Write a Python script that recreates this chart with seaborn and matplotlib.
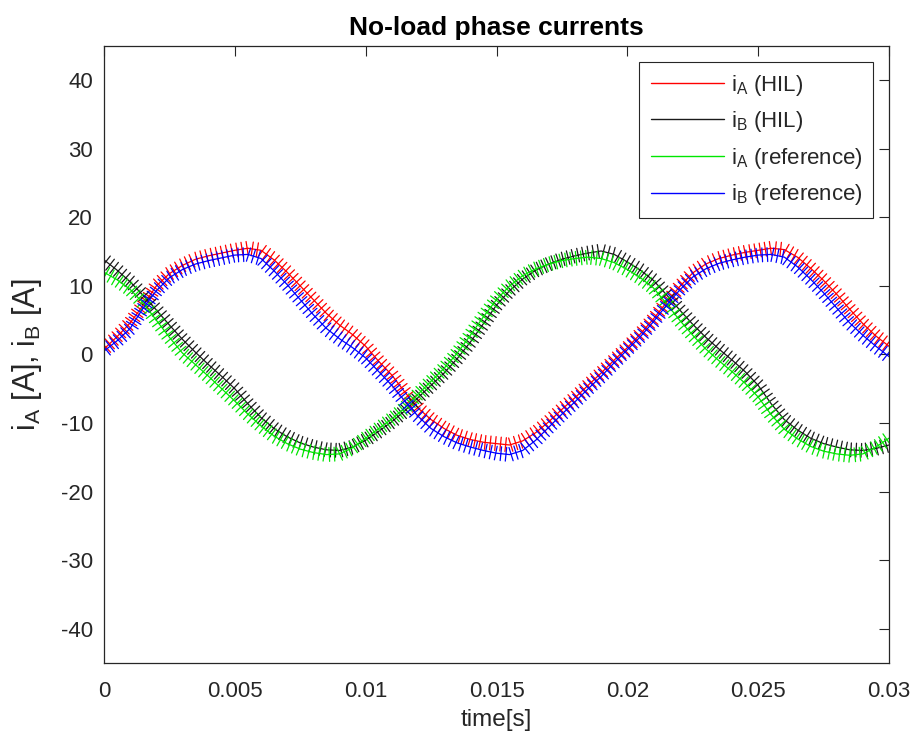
import numpy as np
import pandas as pd
import matplotlib
matplotlib.use("Agg")
import matplotlib.pyplot as plt
import matplotlib.patheffects as pe
from matplotlib.lines import Line2D
import seaborn as sns

# ---- data (time step 0.5 ms) ----
time_ms = [0.0, 0.5, 1.0, 1.5, 2.0, 2.5, 3.0, 3.5, 4.0, 4.5,
           5.0, 5.5, 6.0, 6.5, 7.0, 7.5, 8.0, 8.5, 9.0, 9.5,
           10.0, 10.5, 11.0, 11.5, 12.0, 12.5, 13.0, 13.5, 14.0, 14.5,
           15.0, 15.5, 16.0, 16.5, 17.0, 17.5, 18.0, 18.5, 19.0, 19.5,
           20.0, 20.5, 21.0, 21.5, 22.0, 22.5, 23.0, 23.5, 24.0, 24.5,
           25.0, 25.5, 26.0, 26.5, 27.0, 27.5, 28.0, 28.5, 29.0, 29.5,
           30.0]
iA_hil = [0.8, 2.6, 4.6, 7.2, 10.0, 11.8, 13.0, 13.9, 14.4, 14.8,
          15.2, 15.5, 15.2, 13.8, 12.0, 10.0, 8.0, 6.0, 4.3, 2.9,
          1.2, -1.0, -3.0, -5.5, -7.8, -9.5, -10.8, -11.8, -12.4, -12.8,
          -13.0, -13.2, -12.6, -11.4, -9.8, -8.0, -6.3, -4.5, -2.7, -0.8,
          1.0, 3.0, 5.2, 7.6, 9.9, 11.9, 13.2, 14.0, 14.5, 14.9,
          15.2, 15.5, 15.3, 14.2, 12.6, 10.8, 8.8, 6.6, 4.5, 2.7,
          1.2]
iB_hil = [13.8, 12.3, 10.6, 8.6, 6.5, 4.3, 2.2, 0.3, -1.5, -3.2,
          -5.0, -7.2, -9.2, -10.8, -12.0, -12.9, -13.5, -13.9, -14.0, -13.5,
          -12.5, -11.2, -9.8, -8.2, -6.3, -4.5, -2.7, -0.6, 1.8, 4.5,
          7.2, 9.3, 11.0, 12.3, 13.2, 13.9, 14.4, 14.8, 15.1, 14.6,
          13.5, 12.3, 10.8, 8.7, 6.5, 4.4, 2.5, 0.8, -0.8, -2.5,
          -4.5, -7.2, -9.5, -11.0, -12.2, -13.0, -13.5, -13.9, -14.0, -13.7,
          -13.2]
iA_ref = [12.0, 10.9, 9.5, 7.5, 5.0, 2.5, 0.2, -1.5, -3.2, -5.0,
          -6.8, -8.7, -10.4, -11.9, -13.0, -13.8, -14.3, -14.6, -14.5, -13.6,
          -12.2, -10.8, -9.4, -7.8, -5.8, -3.9, -2.0, 0.2, 2.8, 5.5,
          8.0, 10.0, 11.5, 12.5, 13.2, 13.7, 14.0, 14.2, 14.0, 13.4,
          12.4, 11.2, 9.7, 7.4, 5.0, 2.8, 0.8, -0.9, -2.5, -4.2,
          -6.2, -8.8, -10.9, -12.3, -13.4, -14.1, -14.5, -14.7, -14.5, -13.5,
          -12.2]
iB_ref = [0.5, 2.0, 3.8, 6.8, 9.3, 11.2, 12.4, 13.2, 13.7, 14.1,
          14.5, 14.6, 14.0, 12.2, 10.2, 8.0, 5.8, 3.8, 2.3, 1.0,
          -0.5, -2.5, -4.5, -6.8, -9.0, -10.8, -12.0, -12.9, -13.5, -14.0,
          -14.4, -14.6, -14.0, -12.5, -10.6, -8.7, -6.9, -5.0, -3.2, -1.2,
          0.7, 2.6, 4.8, 7.2, 9.4, 11.3, 12.5, 13.3, 13.8, 14.2,
          14.5, 14.6, 14.2, 12.8, 11.0, 9.0, 6.8, 4.6, 2.8, 1.2,
          -0.3]

series_names = [r"i$_\mathrm{A}$ (HIL)", r"i$_\mathrm{B}$ (HIL)",
                r"i$_\mathrm{A}$ (reference)", r"i$_\mathrm{B}$ (reference)"]
series_colors = ["#ff0000", "#1a1a1a", "#00e600", "#0000ff"]
x_ticks = [0, 0.005, 0.01, 0.015, 0.02, 0.025, 0.03]
x_tick_labels = ["0", "0.005", "0.01", "0.015", "0.02", "0.025", "0.03"]
y_ticks = [-40, -30, -20, -10, 0, 10, 20, 30, 40]

sns.set_style("white")
plt.rcParams["font.family"] = ["Liberation Sans", "DejaVu Sans"]
plt.rcParams["mathtext.fontset"] = "custom"
plt.rcParams["mathtext.rm"] = "Liberation Sans"
plt.rcParams["mathtext.it"] = "Liberation Sans:italic"
plt.rcParams["axes.unicode_minus"] = False

fig = plt.figure(figsize=(9.16, 7.40), dpi=100)
ax = fig.add_axes([104 / 916, 1 - 663 / 740, (889 - 104) / 916, (663 - 46) / 740])

t_s = [v / 1000.0 for v in time_ms]
all_series = [iA_hil, iB_hil, iA_ref, iB_ref]
ripple = [pe.TickedStroke(spacing=3.7, angle=90, length=1.35, linewidth=0.9),
          pe.TickedStroke(spacing=3.7, angle=-90, length=1.35, linewidth=0.9),
          pe.Normal()]
for name, vals, col in zip(series_names, all_series, series_colors):
    df = pd.DataFrame({"t": t_s, "i": vals})
    sns.lineplot(data=df, x="t", y="i", ax=ax, color=col, linewidth=0.9,
                 legend=False)
    ax.lines[-1].set_path_effects(ripple)

ax.set_xlim(0, 0.03)
ax.set_ylim(-45, 45)
ax.set_xticks(x_ticks)
ax.set_xticklabels(x_tick_labels)
ax.set_yticks(y_ticks)
ax.tick_params(axis="both", which="both", direction="in", length=7, width=0.8,
               labelsize=16, colors="#262626", top=True, right=True,
               pad=8)
ax.tick_params(axis="x", pad=13)
for s in ax.spines.values():
    s.set_visible(True)
    s.set_color("#262626")
    s.set_linewidth(0.9)

ax.set_title("No-load phase currents", fontsize=19, fontweight="bold",
             color="black", pad=8)
ax.set_xlabel("time[s]", fontsize=17.5, color="#262626", labelpad=5)
ax.set_ylabel(r"i$_\mathrm{A}$ [A], i$_\mathrm{B}$ [A]", fontsize=22,
              color="#262626", labelpad=12)

handles = [Line2D([], [], color=c, linewidth=1.0) for c in series_colors]
leg = ax.legend(handles, series_names, loc="upper right", fontsize=16,
                frameon=True, fancybox=False, framealpha=1, edgecolor="#262626",
                handlelength=3.3, handletextpad=0.3, labelspacing=0.52,
                borderpad=0.5, borderaxespad=0.7)
leg.get_frame().set_linewidth(0.8)
for t in leg.get_texts():
    t.set_color("#262626")

fig.savefig("out.png", dpi=100)
